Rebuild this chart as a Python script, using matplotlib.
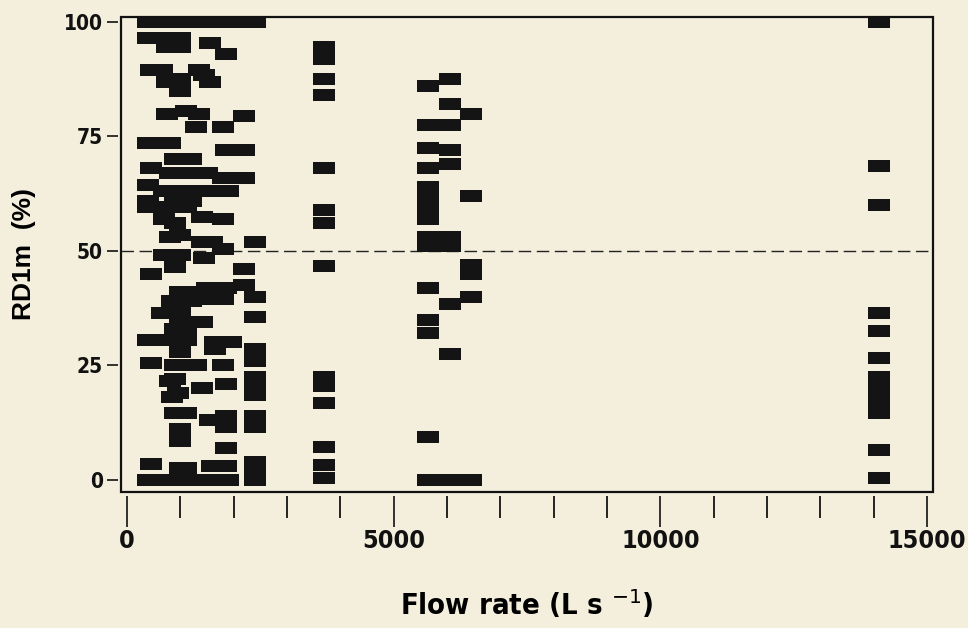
import numpy as np
import matplotlib.pyplot as plt
from matplotlib.patches import Rectangle
from matplotlib.ticker import MultipleLocator
from matplotlib import font_manager

narrow = font_manager.FontProperties(family='DejaVu Sans', stretch='condensed', weight='bold')

# low-flow cluster (flow, RD1m)
low_flow = [400, 800, 1200, 1600, 2000, 2400,
            400, 800, 1000, 750, 1000, 1550, 1850,
            450, 650, 1350, 1450, 750, 1000, 1550, 1000,
            750, 1100, 1350, 2200, 1300, 1800, 400, 800, 1850, 2200,
            900, 1200, 450, 800, 1200, 1500, 1800, 2200, 400,
            700, 1100, 1500, 1900, 400, 900, 1200,
            400, 700, 1100, 1400, 1800, 700, 900, 800, 1000,
            1400, 1600, 1800, 2400, 1450, 700, 1000, 450, 900, 2200,
            1500, 1850, 2200, 1000, 1200, 2400,
            1800, 850, 1200, 1400, 650, 1000, 2400, 1000, 1400, 900, 1100,
            400, 800, 1100, 1650, 1950, 1650, 2400, 1000, 450, 900, 1300,
            1800, 2400, 2400, 2400, 2400, 800, 900, 1850, 1400, 950,
            850, 900, 1100, 1850, 1850, 1550, 2400, 2400, 1000, 1000, 1850,
            2400, 2400, 2400, 450, 1600, 1850, 1000, 1100,
            400, 800, 1200, 1600, 1900]
low_rd = [100, 100, 100, 100, 100, 100,
          96.5, 96.5, 96.5, 94.5, 94.5, 95.5, 93,
          89.5, 89.5, 89.5, 88.5, 87, 87.5, 87, 85,
          80, 80.5, 80, 79.5, 77, 77, 73.5, 73.5, 72, 72,
          70, 70, 68, 67, 67, 67, 66, 66, 64.5,
          63, 63, 63, 63, 61, 61, 61,
          59.5, 59.5, 59.5, 57.5, 57, 57, 56, 53, 53.5,
          52, 52, 50.5, 52, 48.5, 49, 49, 45, 46.5, 46,
          42, 42, 42.5, 41, 41, 40,
          39.5, 39, 39, 39.5, 36.5, 36.5, 35.5, 34.5, 34.5, 33, 33,
          30.5, 30.5, 30.5, 30, 30, 28.5, 28.5, 28, 25.5, 25, 25,
          25, 26, 22.5, 20.5, 18.5, 21.5, 22, 21, 20, 19,
          18, 14.5, 14.5, 14, 11.5, 13, 14, 11.5, 11, 8.5, 7,
          4, 1.5, 0, 3.5, 3, 3, 2.5, 2.5,
          0, 0, 0, 0, 0]

# discrete high-flow columns
col_3700 = [94.5, 92, 87.5, 84, 68, 59, 56, 46.7, 22.5, 20.5, 16.7, 7.2, 3.3, 0.3]
col_5650 = [86, 77.5, 72.5, 68, 64, 61.5, 59.5, 57, 53, 51, 42, 35, 32, 9.3, 0]
col_6050 = [87.5, 82, 77.5, 72, 69, 53, 51, 38.5, 27.5, 0]
col_6450 = [80, 62, 47, 45, 40, 0]
col_14100 = [100, 68.5, 60, 36.5, 32.5, 26.5, 22.5, 20.5, 18, 16, 14.5, 6.5, 0.5]
col_flows = [3700, 5650, 6050, 6450, 14100]
col_values = [col_3700, col_5650, col_6050, col_6450, col_14100]

ref_line = 50

flow = list(low_flow)
rd = list(low_rd)
for f, vals in zip(col_flows, col_values):
    flow += [f] * len(vals)
    rd += vals

bg = '#f3efdc'
fig = plt.figure(figsize=(9.68, 6.28), dpi=100, facecolor=bg)
ax = fig.add_axes([0.125, 0.217, 0.839, 0.756], facecolor=bg)

rect = [(-1, -0.5), (1, -0.5), (1, 0.5), (-1, 0.5)]
ax.scatter(flow, rd, marker=rect, s=255, color='#141414', linewidths=0, zorder=3)

ax.axhline(ref_line, color='#222222', lw=1.0, dashes=(9, 4), zorder=2)

ax.set_xlim(-113, 15113)
ax.set_ylim(-2.6, 101.1)

for side in ['top', 'right']:
    ax.spines[side].set_visible(False)
ax.spines['bottom'].set_position(('outward', 3))
ax.spines['bottom'].set_visible(False)
ax.spines['left'].set_position(('outward', 2))
ax.spines['left'].set_visible(False)
ax.add_patch(Rectangle((0, 0), 1, 1, transform=ax.transAxes, fill=False,
                       lw=1.6, edgecolor='#111111', clip_on=False, zorder=4))

ax.set_xticks([0, 5000, 10000, 15000])
ax.xaxis.set_minor_locator(MultipleLocator(1000))
ax.set_yticks([0, 25, 50, 75, 100])
ax.tick_params(axis='x', which='major', length=22, width=1.2, pad=2,
               colors='#111111')
ax.tick_params(axis='x', which='minor', length=16, width=1.2)
ax.tick_params(axis='y', which='major', length=8, width=1.2, pad=3,
               colors='#111111')
for lab in ax.get_xticklabels():
    lab.set_fontproperties(narrow)
    lab.set_fontsize(18)
for lab in ax.get_yticklabels():
    lab.set_fontproperties(narrow)
    lab.set_fontsize(15)

ax.set_xlabel('Flow rate (L s $^{-1}$)', fontproperties=narrow, fontsize=21,
              labelpad=25)
ax.set_ylabel('RD1m  (%)', fontsize=19, fontweight='bold',
              family=['Liberation Sans', 'DejaVu Sans'], labelpad=20)

fig.savefig('out.png', dpi=100, facecolor=bg)
